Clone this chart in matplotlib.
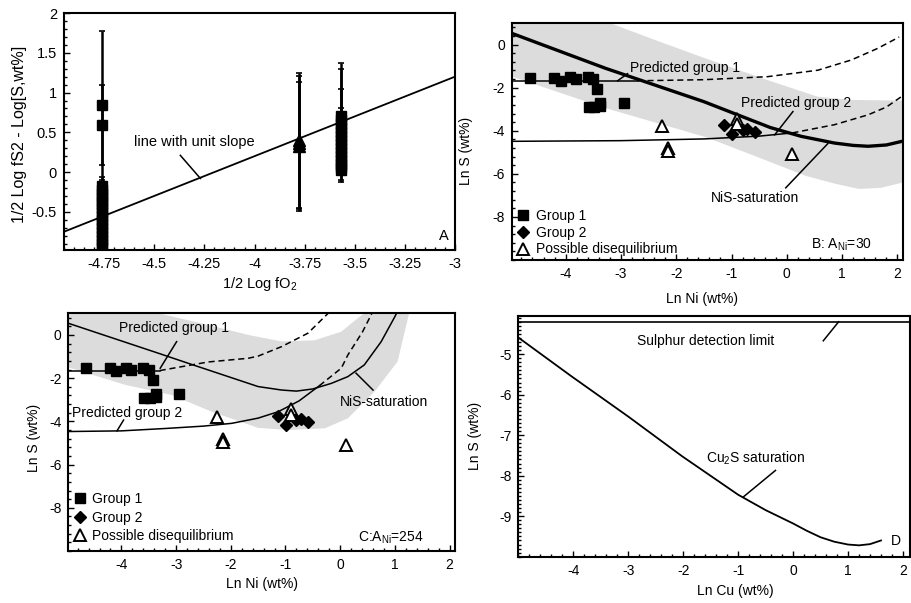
import matplotlib
matplotlib.use("Agg")
import matplotlib.pyplot as plt
from matplotlib.ticker import AutoMinorLocator, FuncFormatter

plt.rcParams['font.family'] = ['Liberation Sans', 'DejaVu Sans']
plt.rcParams['mathtext.default'] = 'regular'
plt.rcParams['axes.unicode_minus'] = False
plt.rcParams['font.size'] = 10

# ---- panel A: 1/2 log fO2 vs 1/2 log fS2 - log S ----
a_x1 = -4.76
a_y1 = [0.84, 0.59, -0.18, -0.22, -0.27, -0.31, -0.36, -0.40, -0.45, -0.50, -0.55,
        -0.60, -0.65, -0.70, -0.75, -0.80, -0.85, -0.90, -0.94]
a_e1 = [0.94, 0.50, 0.12, 0.10, 0.15, 0.10, 0.12, 0.10, 0.12, 0.10, 0.12,
        0.10, 0.12, 0.10, 0.10, 0.08, 0.06, 0.05, 0.04]
a_x2 = -3.78
a_y2 = [0.33, 0.36, 0.40]
a_e2 = [0.80, 0.85, 0.85]
a_x3 = -3.57
a_y3 = [0.02, 0.06, 0.10, 0.15, 0.20, 0.25, 0.30, 0.35, 0.40, 0.45, 0.50, 0.55, 0.60, 0.65, 0.70]
a_e3 = [0.14, 0.10, 0.12, 0.10, 0.15, 0.10, 0.12, 0.20, 0.10, 0.15, 0.30, 0.12, 0.70, 0.40, 0.67]
unit_x = [-4.95, -3.0]
unit_y = [-0.75, 1.20]

# ---- panels B, C: ln Ni vs ln S ----
g1_x = [-4.65, -4.21, -4.09, -3.92, -3.82, -3.60, -3.50, -3.43, -3.58, -3.48, -3.37, -3.37, -2.95]
g1_y = [-1.55, -1.55, -1.68, -1.52, -1.62, -1.52, -1.62, -2.08, -2.92, -2.90, -2.72, -2.85, -2.72]
g2_x = [-1.14, -0.99, -0.72, -0.58, -0.80]
g2_y = [-3.75, -4.15, -3.90, -4.05, -3.95]
dq_x = [-2.25, -2.15, -2.15, -0.90, -0.90, 0.10]
dq_y = [-3.80, -4.80, -4.95, -3.45, -3.70, -5.10]

# panel B model curves
b_band_x = [-4.95, -3.2, -2.37, -1.55, -0.35, 0.56, 1.16, 2.1,
            2.1, 1.7, 1.3, 0.86, 0.35, -0.45, -1.46, -3.28, -4.95]
b_band_y = [1.0, 1.0, 0.2, -0.57, -1.65, -2.42, -2.57, -2.6,
            -6.4, -6.65, -6.7, -6.45, -6.1, -5.3, -4.3, -2.95, -1.5]
b_nis_x = [-4.95, -3.28, -1.5, -0.95, -0.3, 0.26, 0.86, 1.2, 1.47, 1.8, 2.1]
b_nis_y = [0.5, -1.1, -2.65, -3.2, -3.85, -4.26, -4.57, -4.68, -4.72, -4.66, -4.48]
b_p1_x = [-4.95, -2.7]
b_p1_y = [-1.68, -1.68]
b_p1d_x = [-2.7, -1.5, -0.35, 0.56, 1.16, 1.64, 2.03]
b_p1d_y = [-1.68, -1.63, -1.49, -1.19, -0.72, -0.18, 0.35]
b_p2_x = [-4.95, -3.0, -1.5, -0.5, 0.1]
b_p2_y = [-4.49, -4.46, -4.38, -4.25, -4.1]
b_p2d_x = [0.1, 0.86, 1.47, 1.8, 2.07]
b_p2d_y = [-4.1, -3.72, -3.26, -2.9, -2.42]

# panel C model curves
c_band_x = [-4.97, -3.32, -2.41, -1.68, -1.07, -0.47, 0.02, 0.32, 0.44,
            1.26, 1.05, 0.63, 0.14, -0.28, -0.95, -1.5, -2.35, -3.08, -3.93, -4.97]
c_band_y = [1.0, 1.0, 0.46, 0.0, -0.3, -0.25, 0.15, 0.77, 1.0,
            1.0, -1.23, -2.62, -3.86, -4.32, -4.4, -4.3, -3.55, -2.78, -2.31, -1.5]
c_nis_x = [-4.97, -3.32, -2.71, -1.5, -1.07, -0.8, -0.5, -0.16, 0.14, 0.44, 0.75, 0.99, 1.05]
c_nis_y = [0.54, -0.85, -1.37, -2.39, -2.55, -2.6, -2.5, -2.24, -1.93, -1.39, -0.31, 0.8, 1.1]
c_p1_x = [-4.97, -3.3]
c_p1_y = [-1.65, -1.65]
c_p1d_x = [-3.3, -2.41, -1.68, -1.5, -1.07, -0.59, -0.2]
c_p1d_y = [-1.65, -1.25, -1.08, -0.98, -0.54, 0.08, 1.05]
c_p2_x = [-4.97, -4.0, -3.2, -2.5, -1.98, -1.5, -1.13, -0.75, -0.38]
c_p2_y = [-4.47, -4.44, -4.33, -4.22, -4.09, -3.85, -3.55, -3.05, -2.35]
c_p2d_x = [-0.38, 0.02, 0.14, 0.41, 0.6]
c_p2d_y = [-2.35, -1.54, -0.93, 0.15, 1.1]

# ---- panel D: ln Cu vs ln S ----
d_cu_x = [-5.0, -4.03, -3.0, -2.02, -1.0, -0.5, 0.0, 0.25, 0.5, 0.75, 1.0, 1.2, 1.4, 1.6]
d_cu_y = [-4.59, -5.55, -6.54, -7.52, -8.47, -8.85, -9.18, -9.36, -9.52, -9.63, -9.70, -9.72, -9.69, -9.60]
d_limit_x = [-5.0, 2.13]
d_limit_y = [-4.2, -4.2]

GREY = '#dcdcdc'
fmt = FuncFormatter(lambda v, p: '%g' % v)


def style(ax, xminor=5, yminor=5, size=10):
    for s in ax.spines.values():
        s.set_linewidth(1.5)
    ax.tick_params(which='both', direction='in', top=False, right=False, width=1)
    ax.tick_params(which='major', length=4, pad=5, labelsize=size)
    ax.tick_params(which='minor', length=2)
    ax.xaxis.set_minor_locator(AutoMinorLocator(xminor))
    ax.yaxis.set_minor_locator(AutoMinorLocator(yminor))
    ax.xaxis.set_major_formatter(fmt)
    ax.yaxis.set_major_formatter(fmt)


def leader(ax, x0, y0, x1, y1):
    ax.plot([x0, x1], [y0, y1], color='k', lw=1.1)


fig = plt.figure(figsize=(9.11, 6.03), dpi=100)

# A
ax = fig.add_axes([0.0703, 0.5854, 0.4292, 0.393])
ax.plot(unit_x, unit_y, color='k', lw=1.3)
eb = dict(color='k', ecolor='k', elinewidth=1.8, capsize=2.5, capthick=1.2, linestyle='none')
ax.errorbar([a_x1] * len(a_y1), a_y1, yerr=a_e1, marker='s', ms=7.5, **eb)
ax.errorbar([a_x2] * len(a_y2), a_y2, yerr=a_e2, marker='^', ms=8.5, **eb)
ax.errorbar([a_x3] * len(a_y3), a_y3, yerr=a_e3, marker='s', ms=6.5, **eb)
leader(ax, -4.37, 0.21, -4.27, -0.08)
ax.text(-4.6, 0.38, 'line with unit slope', ha='left', va='center', fontsize=10.5)
ax.text(0.985, 0.03, 'A', transform=ax.transAxes, ha='right', va='bottom', fontsize=10.5)
ax.set_xlim(-4.95, -3.0)
ax.set_ylim(-0.98, 2.0)
ax.set_xticks([-4.75, -4.5, -4.25, -4.0, -3.75, -3.5, -3.25, -3.0])
ax.set_yticks([-0.5, 0, 0.5, 1, 1.5, 2])
style(ax, size=10.5)
ax.set_xlabel('1/2 Log fO$_2$', fontsize=10.5)
ax.set_ylabel('1/2 Log fS2 - Log[S,wt%]', fontsize=11.5)
ax.xaxis.set_label_coords(0.5, -0.105)
ax.yaxis.set_label_coords(-0.095, 0.49)


def ni_panel(ax, band_x, band_y, nis_x, nis_y, nis_lw, p1, p1d, p2, p2d):
    ax.fill(band_x, band_y, color=GREY, lw=0, zorder=0)
    ax.plot(nis_x, nis_y, color='k', lw=nis_lw, zorder=2)
    ax.plot(p1[0], p1[1], color='k', lw=1.1, zorder=2)
    ax.plot(p1d[0], p1d[1], color='k', lw=1.1, ls=(0, (4, 2.5)), zorder=2)
    ax.plot(p2[0], p2[1], color='k', lw=1.1, zorder=2)
    ax.plot(p2d[0], p2d[1], color='k', lw=1.1, ls=(0, (4, 2.5)), zorder=2)
    ax.plot(g1_x, g1_y, 's', color='k', ms=7, label='Group 1', zorder=3)
    ax.plot(g2_x, g2_y, 'D', color='k', ms=6, label='Group 2', zorder=3)
    ax.plot(dq_x, dq_y, '^', mfc='white', mec='k', mew=1.4, ms=9,
            label='Possible disequilibrium', zorder=4)
    ax.set_xlim(-4.97, 2.1)
    ax.set_ylim(-10, 1)
    ax.set_xticks([-4, -3, -2, -1, 0, 1, 2])
    ax.set_yticks([0, -2, -4, -6, -8])
    style(ax)
    ax.set_xlabel('Ln Ni (wt%)', fontsize=10)
    ax.set_ylabel('Ln S (wt%)', fontsize=10)


# B
ax = fig.add_axes([0.562, 0.5688, 0.4292, 0.393])
ni_panel(ax, b_band_x, b_band_y, b_nis_x, b_nis_y, 2.4,
         (b_p1_x, b_p1_y), (b_p1d_x, b_p1d_y), (b_p2_x, b_p2_y), (b_p2d_x, b_p2d_y))
leader(ax, -3.06, -1.68, -2.88, -1.35)
ax.text(-2.84, -1.1, 'Predicted group 1', ha='left', va='center', fontsize=10)
leader(ax, -0.22, -4.19, 0.11, -3.11)
ax.text(-0.83, -2.72, 'Predicted group 2', ha='left', va='center', fontsize=10)
leader(ax, -0.02, -6.65, 0.74, -4.6)
ax.text(-0.58, -7.1, 'NiS-saturation', ha='center', va='center', fontsize=10)
ax.text(1.53, -9.3, 'B: A$_{Ni}$=30', ha='right', va='center', fontsize=10)
ax.legend(loc='lower left', bbox_to_anchor=(-0.01, -0.02), frameon=False, fontsize=10,
          handlelength=1.0, handletextpad=0.4, labelspacing=0.2, borderaxespad=0.2)
ax.xaxis.set_label_coords(0.485, -0.135)
ax.yaxis.set_label_coords(-0.1, 0.46)

# C
ax = fig.add_axes([0.075, 0.0862, 0.4245, 0.3942])
ni_panel(ax, c_band_x, c_band_y, c_nis_x, c_nis_y, 1.1,
         (c_p1_x, c_p1_y), (c_p1d_x, c_p1d_y), (c_p2_x, c_p2_y), (c_p2d_x, c_p2d_y))
leader(ax, -3.29, -1.54, -2.99, -0.31)
ax.text(-4.05, 0.31, 'Predicted group 1', ha='left', va='center', fontsize=10)
leader(ax, -4.08, -4.44, -3.96, -3.94)
ax.text(-4.9, -3.63, 'Predicted group 2', ha='left', va='center', fontsize=10)
leader(ax, 0.29, -1.77, 0.6, -2.55)
ax.text(0.0, -3.12, 'NiS-saturation', ha='left', va='center', fontsize=10)
ax.text(1.53, -9.4, 'C:A$_{Ni}$=254', ha='right', va='center', fontsize=10)
ax.legend(loc='lower left', bbox_to_anchor=(-0.01, 0.0), frameon=False, fontsize=10,
          handlelength=1.0, handletextpad=0.4, labelspacing=0.3, borderaxespad=0.2)
ax.xaxis.set_label_coords(0.502, -0.111)
ax.yaxis.set_label_coords(-0.07, 0.475)

# D
ax = fig.add_axes([0.569, 0.0768, 0.43, 0.3997])
ax.plot(d_limit_x, d_limit_y, color='k', lw=1.2)
ax.plot(d_cu_x, d_cu_y, color='k', lw=1.3)
leader(ax, 0.55, -4.67, 0.83, -4.2)
ax.text(-1.6, -4.67, 'Sulphur detection limit', ha='center', va='center', fontsize=10)
leader(ax, -0.91, -8.53, -0.32, -7.87)
ax.text(-1.58, -7.56, 'Cu$_2$S saturation', ha='left', va='center', fontsize=10)
ax.text(1.87, -9.62, 'D', ha='center', va='center', fontsize=10)
ax.set_xlim(-5.0, 2.13)
ax.set_ylim(-10, -4.05)
ax.set_xticks([-4, -3, -2, -1, 0, 1, 2])
ax.set_yticks([-5, -6, -7, -8, -9])
style(ax, 5, 10)
ax.set_xlabel('Ln Cu (wt%)', fontsize=10)
ax.set_ylabel('Ln S (wt%)', fontsize=10)
ax.xaxis.set_label_coords(0.553, -0.113)
ax.yaxis.set_label_coords(-0.094, 0.5)

fig.savefig('out.png', dpi=100)
